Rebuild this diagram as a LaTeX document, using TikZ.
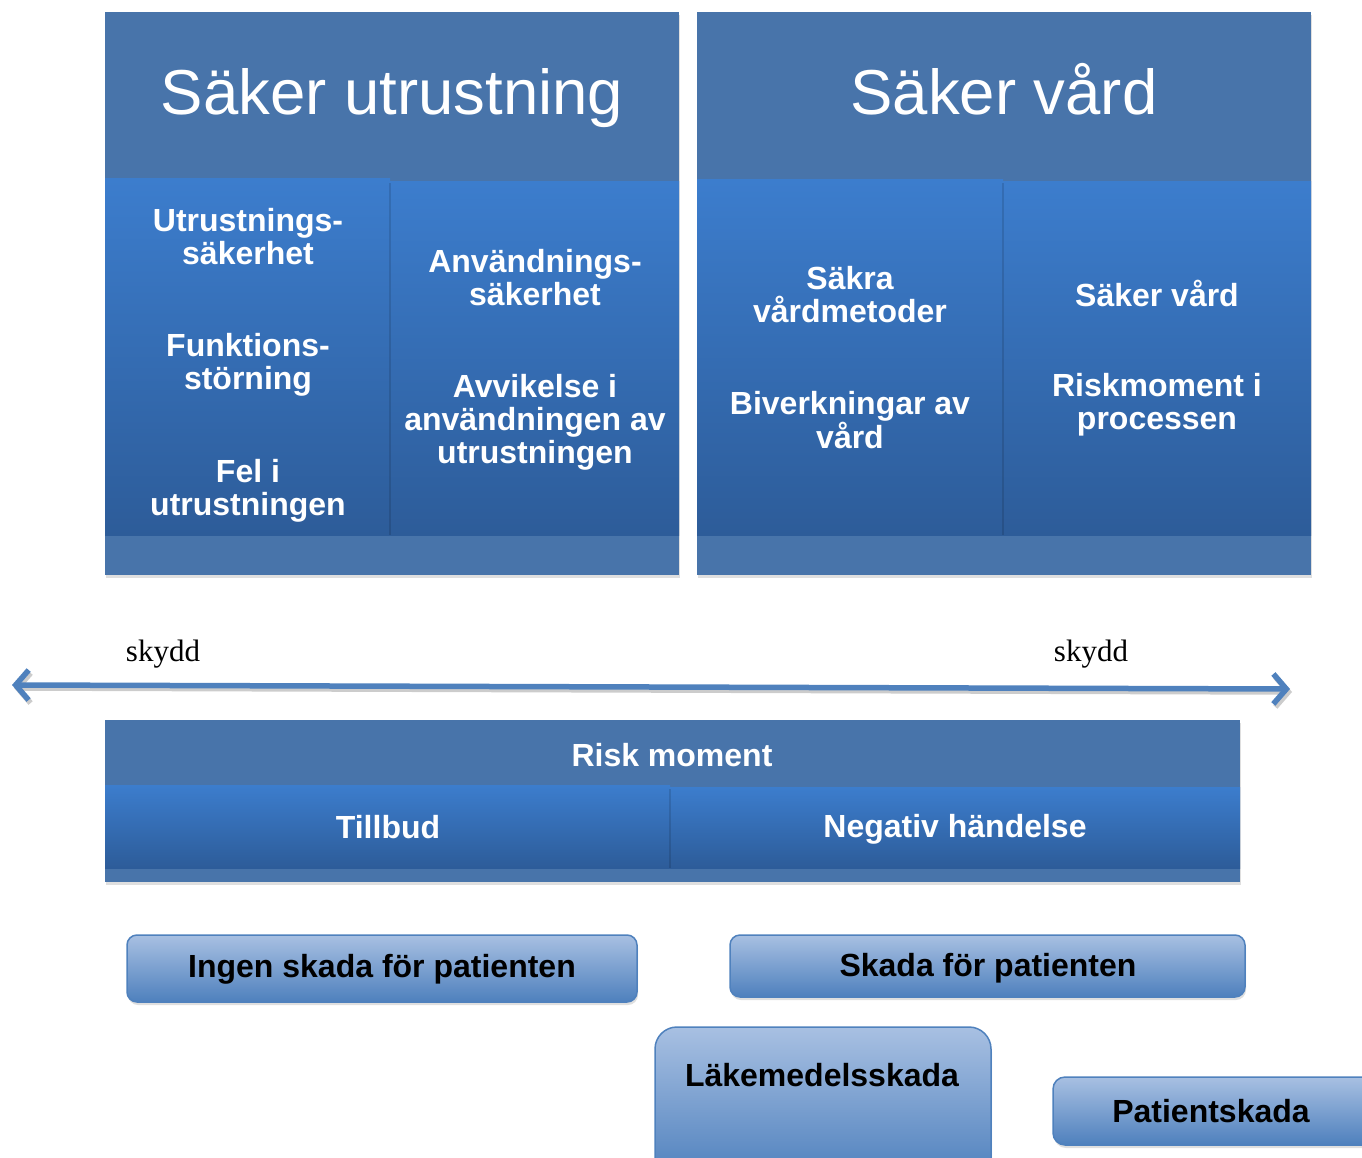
\documentclass[tikz,border=0pt]{standalone}
\usepackage{fontspec}
\setmainfont{Liberation Sans}
\newfontfamily\skyddfont{Liberation Serif}
\usetikzlibrary{arrows.meta,shadows}
\definecolor{headblue}{RGB}{72,116,170}
\definecolor{celltop}{RGB}{60,125,205}
\definecolor{cellbot}{RGB}{45,92,153}
\definecolor{pilltop}{RGB}{168,192,226}
\definecolor{pillbot}{RGB}{78,128,189}
\definecolor{linkblue}{RGB}{79,129,189}
\begin{document}
\begin{tikzpicture}[x=1pt,y=-1pt,
	head/.style={fill=headblue,drop shadow={shadow xshift=1pt,shadow yshift=-3pt,opacity=0.25}},
	cell/.style={top color=celltop,bottom color=cellbot},
	title/.style={text=white,font=\fontsize{63.5}{70}\selectfont},
	item/.style={text=white,align=center,font=\bfseries\fontsize{32}{33}\selectfont},
	pill/.style={draw=linkblue,line width=1.5pt,top color=pilltop,bottom color=pillbot,drop shadow={shadow xshift=1pt,shadow yshift=-3pt,opacity=0.25}},
	pilltext/.style={font=\bfseries\fontsize{32}{33}\selectfont},
	skydd/.style={font=\skyddfont\fontsize{31}{32}\selectfont},
	barbs/.style={line width=5.5pt,{Straight Barb[length=13pt,width=30pt]}-{Straight Barb[length=13pt,width=30pt]}}]
	\useasboundingbox (0,0) rectangle (1362,1158);
	% two top blocks
	\fill[head] (105,12) rectangle (679,575);
	\path[cell] (105,179) rectangle (390,535);
	\path[cell] (390,182) rectangle (679,535);
	\fill[head] (697,12) rectangle (1311,575);
	\path[cell] (697,180) rectangle (1003,535);
	\path[cell] (1003,182) rectangle (1311,535);
	\foreach \x in {390,1003}{\draw[black,opacity=.12,line width=2pt] (\x,183)--(\x,535);}
	\node[title,anchor=base] (utr) at (392,115) {Säker utrustning};
	\node[title,anchor=base] (vard) at (1004,115) {Säker vård};
	\foreach \n/\x/\y/\t in {u1/248/237/{Utrustnings-\\säkerhet}, u2/248/365/{Funktions-\\störning},
		u3/248/491/{Fel i\\utrustningen}, a1/535/278/{Användnings-\\säkerhet},
		a2/535/422/{Avvikelse i\\användningen av\\utrustningen}, v1/850/295/{Säkra\\vårdmetoder},
		v2/850/420/{Biverkningar av\\vård}, r1/1157/293/{Säker vård}, r2/1157/405/{Riskmoment i\\processen}}
		{\node[item] (\n) at (\x,\y) {\t};}
	% skydd arrow
	\coordinate (lend) at (12,685);
	\coordinate (rend) at (1290,689);
	\draw[barbs,black!20] ([shift={(2,3)}]lend)--([shift={(2,3)}]rend);
	\draw[barbs,linkblue] (lend)--(rend);
	\node[skydd] (s1) at (163,654) {skydd};
	\node[skydd] (s2) at (1091,654) {skydd};
	% risk moment block
	\fill[head] (105,720) rectangle (1240,882);
	\path[cell] (105,785) rectangle (670,868);
	\path[cell] (670,787) rectangle (1240,868);
	\draw[black,opacity=.12,line width=2pt] (670,789)--(670,868);
	\node[item] (risk) at (672,755) {Risk moment};
	\node[item] (till) at (388,827) {Tillbud};
	\node[item] (neg) at (955,829) {Negativ händelse};
	% outcome boxes
	\path[pill,rounded corners=10pt] (127,935) rectangle (637,1002);
	\path[pill,rounded corners=10pt] (730,935) rectangle (1245,997);
	\path[pill,rounded corners=22pt] (655,1027) rectangle (991,1180);
	\path[pill,rounded corners=12pt] (1053,1077) rectangle (1380,1145);
	\node[pilltext] (ingen) at (382,969) {Ingen skada för patienten};
	\node[pilltext] (skada) at (988,968) {Skada för patienten};
	\node[pilltext] (lake) at (822,1075) {Läkemedelsskada};
	\node[pilltext] (pat) at (1211,1111) {Patientskada};
\end{tikzpicture}
\end{document}
